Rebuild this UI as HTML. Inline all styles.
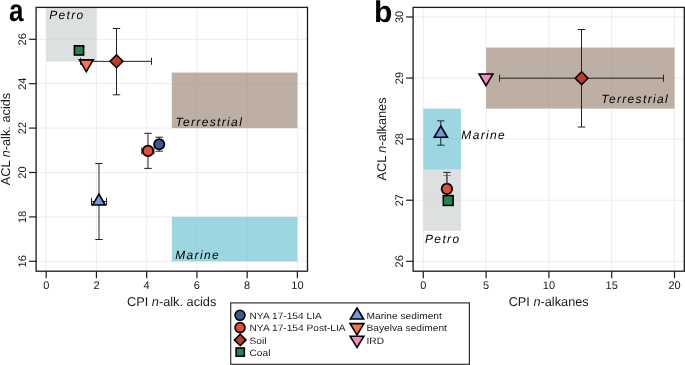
<!DOCTYPE html>
<html><head><meta charset="utf-8"><style>
html,body{margin:0;padding:0;background:#fff;width:685px;height:365px;overflow:hidden}
svg{display:block;font-family:"Liberation Sans", sans-serif;will-change:transform;text-rendering:geometricPrecision}
</style></head><body>
<svg width="685" height="365" viewBox="0 0 685 365">
<line x1="46.20" y1="7.40" x2="46.20" y2="271.20" stroke="#ededed" stroke-width="1"/>
<line x1="96.44" y1="7.40" x2="96.44" y2="271.20" stroke="#ededed" stroke-width="1"/>
<line x1="146.68" y1="7.40" x2="146.68" y2="271.20" stroke="#ededed" stroke-width="1"/>
<line x1="196.92" y1="7.40" x2="196.92" y2="271.20" stroke="#ededed" stroke-width="1"/>
<line x1="247.16" y1="7.40" x2="247.16" y2="271.20" stroke="#ededed" stroke-width="1"/>
<line x1="297.40" y1="7.40" x2="297.40" y2="271.20" stroke="#ededed" stroke-width="1"/>
<line x1="36.10" y1="261.30" x2="307.50" y2="261.30" stroke="#ededed" stroke-width="1"/>
<line x1="36.10" y1="216.90" x2="307.50" y2="216.90" stroke="#ededed" stroke-width="1"/>
<line x1="36.10" y1="172.50" x2="307.50" y2="172.50" stroke="#ededed" stroke-width="1"/>
<line x1="36.10" y1="128.10" x2="307.50" y2="128.10" stroke="#ededed" stroke-width="1"/>
<line x1="36.10" y1="83.70" x2="307.50" y2="83.70" stroke="#ededed" stroke-width="1"/>
<line x1="36.10" y1="39.30" x2="307.50" y2="39.30" stroke="#ededed" stroke-width="1"/>
<rect x="46.20" y="7.40" width="50.24" height="54.10" fill="#ced3d4" fill-opacity="0.7"/>
<rect x="171.80" y="72.60" width="125.60" height="55.50" fill="#a18d7d" fill-opacity="0.7"/>
<rect x="171.80" y="216.90" width="125.60" height="44.40" fill="#70c4d4" fill-opacity="0.7"/>
<text x="49.20" y="19.00" font-size="12" text-anchor="start"  style="font-style:italic;letter-spacing:1.35px">Petro</text>
<text x="175.40" y="125.90" font-size="12" text-anchor="start"  style="font-style:italic;letter-spacing:1.35px">Terrestrial</text>
<text x="175.20" y="258.80" font-size="12" text-anchor="start"  style="font-style:italic;letter-spacing:1.35px">Marine</text>
<line x1="116.50" y1="28.50" x2="116.50" y2="94.80" stroke="#222" stroke-width="1.0"/>
<line x1="112.80" y1="28.50" x2="120.20" y2="28.50" stroke="#222" stroke-width="1.0"/>
<line x1="112.80" y1="94.80" x2="120.20" y2="94.80" stroke="#222" stroke-width="1.0"/>
<line x1="80.50" y1="61.35" x2="151.50" y2="61.35" stroke="#222" stroke-width="1.0"/>
<line x1="80.50" y1="57.85" x2="80.50" y2="64.85" stroke="#222" stroke-width="1.0"/>
<line x1="151.50" y1="57.85" x2="151.50" y2="64.85" stroke="#222" stroke-width="1.0"/>
<line x1="99.00" y1="163.50" x2="99.00" y2="239.50" stroke="#222" stroke-width="1.0"/>
<line x1="95.30" y1="163.50" x2="102.70" y2="163.50" stroke="#222" stroke-width="1.0"/>
<line x1="95.30" y1="239.50" x2="102.70" y2="239.50" stroke="#222" stroke-width="1.0"/>
<line x1="91.50" y1="201.50" x2="106.50" y2="201.50" stroke="#222" stroke-width="1.0"/>
<line x1="91.50" y1="197.80" x2="91.50" y2="205.20" stroke="#222" stroke-width="1.0"/>
<line x1="106.50" y1="197.80" x2="106.50" y2="205.20" stroke="#222" stroke-width="1.0"/>
<line x1="148.00" y1="133.30" x2="148.00" y2="168.40" stroke="#222" stroke-width="1.0"/>
<line x1="144.30" y1="133.30" x2="151.70" y2="133.30" stroke="#222" stroke-width="1.0"/>
<line x1="144.30" y1="168.40" x2="151.70" y2="168.40" stroke="#222" stroke-width="1.0"/>
<line x1="141.80" y1="150.90" x2="154.00" y2="150.90" stroke="#222" stroke-width="1.0"/>
<line x1="141.80" y1="147.40" x2="141.80" y2="154.40" stroke="#222" stroke-width="1.0"/>
<line x1="154.00" y1="147.40" x2="154.00" y2="154.40" stroke="#222" stroke-width="1.0"/>
<line x1="159.20" y1="137.20" x2="159.20" y2="151.20" stroke="#222" stroke-width="1.0"/>
<line x1="155.50" y1="137.20" x2="162.90" y2="137.20" stroke="#222" stroke-width="1.0"/>
<line x1="155.50" y1="151.20" x2="162.90" y2="151.20" stroke="#222" stroke-width="1.0"/>
<circle cx="159.20" cy="144.20" r="5.1" fill="#3d5a8e" stroke="#000" stroke-width="1.8"/>
<circle cx="148.00" cy="150.90" r="5.25" fill="#e34c35" stroke="#000" stroke-width="1.8"/>
<path d="M98.90 194.00L105.20 205.00L92.60 205.00Z" fill="#6d99df" stroke="#000" stroke-width="1.6" stroke-linejoin="miter"/>
<rect x="74.40" y="45.80" width="9.20" height="9.20" fill="#238452" stroke="#000" stroke-width="1.6"/>
<path d="M79.40 59.90L93.20 59.90L86.30 71.60Z" fill="#f8744a" stroke="#000" stroke-width="1.6" stroke-linejoin="miter"/>
<path d="M116.50 54.90L122.90 61.30L116.50 67.70L110.10 61.30Z" fill="#be3c28" stroke="#000" stroke-width="1.6" stroke-linejoin="miter"/>
<rect x="36.10" y="7.40" width="271.40" height="263.80" fill="none" stroke="#1a1a1a" stroke-width="1.3"/>
<line x1="46.20" y1="271.20" x2="46.20" y2="278.20" stroke="#1a1a1a" stroke-width="1.2"/>
<text x="46.20" y="289.00" font-size="11" text-anchor="middle" fill="#1a1a1a" style="">0</text>
<line x1="96.44" y1="271.20" x2="96.44" y2="278.20" stroke="#1a1a1a" stroke-width="1.2"/>
<text x="96.44" y="289.00" font-size="11" text-anchor="middle" fill="#1a1a1a" style="">2</text>
<line x1="146.68" y1="271.20" x2="146.68" y2="278.20" stroke="#1a1a1a" stroke-width="1.2"/>
<text x="146.68" y="289.00" font-size="11" text-anchor="middle" fill="#1a1a1a" style="">4</text>
<line x1="196.92" y1="271.20" x2="196.92" y2="278.20" stroke="#1a1a1a" stroke-width="1.2"/>
<text x="196.92" y="289.00" font-size="11" text-anchor="middle" fill="#1a1a1a" style="">6</text>
<line x1="247.16" y1="271.20" x2="247.16" y2="278.20" stroke="#1a1a1a" stroke-width="1.2"/>
<text x="247.16" y="289.00" font-size="11" text-anchor="middle" fill="#1a1a1a" style="">8</text>
<line x1="297.40" y1="271.20" x2="297.40" y2="278.20" stroke="#1a1a1a" stroke-width="1.2"/>
<text x="297.40" y="289.00" font-size="11" text-anchor="middle" fill="#1a1a1a" style="">10</text>
<line x1="29.10" y1="261.30" x2="36.10" y2="261.30" stroke="#1a1a1a" stroke-width="1.2"/>
<text x="0" y="0" font-size="11" text-anchor="middle" fill="#1a1a1a" transform="translate(26.1 261.30) rotate(-90)">16</text>
<line x1="29.10" y1="216.90" x2="36.10" y2="216.90" stroke="#1a1a1a" stroke-width="1.2"/>
<text x="0" y="0" font-size="11" text-anchor="middle" fill="#1a1a1a" transform="translate(26.1 216.90) rotate(-90)">18</text>
<line x1="29.10" y1="172.50" x2="36.10" y2="172.50" stroke="#1a1a1a" stroke-width="1.2"/>
<text x="0" y="0" font-size="11" text-anchor="middle" fill="#1a1a1a" transform="translate(26.1 172.50) rotate(-90)">20</text>
<line x1="29.10" y1="128.10" x2="36.10" y2="128.10" stroke="#1a1a1a" stroke-width="1.2"/>
<text x="0" y="0" font-size="11" text-anchor="middle" fill="#1a1a1a" transform="translate(26.1 128.10) rotate(-90)">22</text>
<line x1="29.10" y1="83.70" x2="36.10" y2="83.70" stroke="#1a1a1a" stroke-width="1.2"/>
<text x="0" y="0" font-size="11" text-anchor="middle" fill="#1a1a1a" transform="translate(26.1 83.70) rotate(-90)">24</text>
<line x1="29.10" y1="39.30" x2="36.10" y2="39.30" stroke="#1a1a1a" stroke-width="1.2"/>
<text x="0" y="0" font-size="11" text-anchor="middle" fill="#1a1a1a" transform="translate(26.1 39.30) rotate(-90)">26</text>
<text x="171.70" y="305.60" font-size="12.75" text-anchor="middle" fill="#1a1a1a" style="">CPI <tspan font-style="italic">n</tspan>-alk. acids</text>
<text x="0" y="0" font-size="12.75" text-anchor="middle" fill="#1a1a1a" transform="translate(9.6 139.0) rotate(-90)">ACL <tspan font-style="italic">n</tspan>-alk. acids</text>
<text x="0" y="0" font-size="31" font-weight="bold" fill="#000" transform="translate(9.0 21.3) scale(0.84 1.0)">a</text>
<line x1="423.30" y1="7.40" x2="423.30" y2="271.20" stroke="#ededed" stroke-width="1"/>
<line x1="486.10" y1="7.40" x2="486.10" y2="271.20" stroke="#ededed" stroke-width="1"/>
<line x1="548.90" y1="7.40" x2="548.90" y2="271.20" stroke="#ededed" stroke-width="1"/>
<line x1="611.70" y1="7.40" x2="611.70" y2="271.20" stroke="#ededed" stroke-width="1"/>
<line x1="674.50" y1="7.40" x2="674.50" y2="271.20" stroke="#ededed" stroke-width="1"/>
<line x1="413.10" y1="261.30" x2="684.30" y2="261.30" stroke="#ededed" stroke-width="1"/>
<line x1="413.10" y1="200.22" x2="684.30" y2="200.22" stroke="#ededed" stroke-width="1"/>
<line x1="413.10" y1="139.14" x2="684.30" y2="139.14" stroke="#ededed" stroke-width="1"/>
<line x1="413.10" y1="78.06" x2="684.30" y2="78.06" stroke="#ededed" stroke-width="1"/>
<line x1="413.10" y1="16.98" x2="684.30" y2="16.98" stroke="#ededed" stroke-width="1"/>
<rect x="486.10" y="47.52" width="188.40" height="61.08" fill="#a18d7d" fill-opacity="0.7"/>
<rect x="423.30" y="108.60" width="37.68" height="61.08" fill="#70c4d4" fill-opacity="0.7"/>
<rect x="423.30" y="169.68" width="37.68" height="61.08" fill="#ced3d4" fill-opacity="0.7"/>
<text x="601.30" y="102.60" font-size="12" text-anchor="start"  style="font-style:italic;letter-spacing:1.35px">Terrestrial</text>
<text x="461.30" y="139.00" font-size="12" text-anchor="start"  style="font-style:italic;letter-spacing:1.35px">Marine</text>
<text x="425.00" y="243.00" font-size="12" text-anchor="start"  style="font-style:italic;letter-spacing:1.35px">Petro</text>
<line x1="581.50" y1="29.50" x2="581.50" y2="127.00" stroke="#222" stroke-width="1.0"/>
<line x1="577.80" y1="29.50" x2="585.20" y2="29.50" stroke="#222" stroke-width="1.0"/>
<line x1="577.80" y1="127.00" x2="585.20" y2="127.00" stroke="#222" stroke-width="1.0"/>
<line x1="499.60" y1="78.20" x2="663.50" y2="78.20" stroke="#222" stroke-width="1.0"/>
<line x1="499.60" y1="74.70" x2="499.60" y2="81.70" stroke="#222" stroke-width="1.0"/>
<line x1="663.50" y1="74.70" x2="663.50" y2="81.70" stroke="#222" stroke-width="1.0"/>
<line x1="440.80" y1="120.90" x2="440.80" y2="145.20" stroke="#222" stroke-width="1.0"/>
<line x1="437.10" y1="120.90" x2="444.50" y2="120.90" stroke="#222" stroke-width="1.0"/>
<line x1="437.10" y1="145.20" x2="444.50" y2="145.20" stroke="#222" stroke-width="1.0"/>
<line x1="447.00" y1="175.50" x2="447.00" y2="200.00" stroke="#888" stroke-width="1.0"/>
<line x1="443.30" y1="175.50" x2="450.70" y2="175.50" stroke="#888" stroke-width="1.0"/>
<line x1="443.30" y1="200.00" x2="450.70" y2="200.00" stroke="#888" stroke-width="1.0"/>
<line x1="446.90" y1="172.40" x2="446.90" y2="200.00" stroke="#222" stroke-width="1.0"/>
<line x1="443.20" y1="172.40" x2="450.60" y2="172.40" stroke="#222" stroke-width="1.0"/>
<line x1="443.20" y1="200.00" x2="450.60" y2="200.00" stroke="#222" stroke-width="1.0"/>
<circle cx="446.90" cy="188.90" r="5.25" fill="#e34c35" stroke="#000" stroke-width="1.8"/>
<rect x="443.30" y="195.60" width="9.80" height="9.80" fill="#238452" stroke="#000" stroke-width="1.6"/>
<path d="M440.80 126.00L447.40 137.30L434.20 137.30Z" fill="#6d99df" stroke="#000" stroke-width="1.6" stroke-linejoin="miter"/>
<path d="M479.10 74.00L492.90 74.00L486.00 85.70Z" fill="#f989c5" stroke="#000" stroke-width="1.6" stroke-linejoin="miter"/>
<path d="M581.60 71.80L588.00 78.20L581.60 84.60L575.20 78.20Z" fill="#be3c28" stroke="#000" stroke-width="1.6" stroke-linejoin="miter"/>
<rect x="413.10" y="7.40" width="271.20" height="263.80" fill="none" stroke="#1a1a1a" stroke-width="1.3"/>
<line x1="423.30" y1="271.20" x2="423.30" y2="278.20" stroke="#1a1a1a" stroke-width="1.2"/>
<text x="423.30" y="289.00" font-size="11" text-anchor="middle" fill="#1a1a1a" style="">0</text>
<line x1="486.10" y1="271.20" x2="486.10" y2="278.20" stroke="#1a1a1a" stroke-width="1.2"/>
<text x="486.10" y="289.00" font-size="11" text-anchor="middle" fill="#1a1a1a" style="">5</text>
<line x1="548.90" y1="271.20" x2="548.90" y2="278.20" stroke="#1a1a1a" stroke-width="1.2"/>
<text x="548.90" y="289.00" font-size="11" text-anchor="middle" fill="#1a1a1a" style="">10</text>
<line x1="611.70" y1="271.20" x2="611.70" y2="278.20" stroke="#1a1a1a" stroke-width="1.2"/>
<text x="611.70" y="289.00" font-size="11" text-anchor="middle" fill="#1a1a1a" style="">15</text>
<line x1="674.50" y1="271.20" x2="674.50" y2="278.20" stroke="#1a1a1a" stroke-width="1.2"/>
<text x="674.50" y="289.00" font-size="11" text-anchor="middle" fill="#1a1a1a" style="">20</text>
<line x1="406.10" y1="261.30" x2="413.10" y2="261.30" stroke="#1a1a1a" stroke-width="1.2"/>
<text x="0" y="0" font-size="11" text-anchor="middle" fill="#1a1a1a" transform="translate(403.0 261.30) rotate(-90)">26</text>
<line x1="406.10" y1="200.22" x2="413.10" y2="200.22" stroke="#1a1a1a" stroke-width="1.2"/>
<text x="0" y="0" font-size="11" text-anchor="middle" fill="#1a1a1a" transform="translate(403.0 200.22) rotate(-90)">27</text>
<line x1="406.10" y1="139.14" x2="413.10" y2="139.14" stroke="#1a1a1a" stroke-width="1.2"/>
<text x="0" y="0" font-size="11" text-anchor="middle" fill="#1a1a1a" transform="translate(403.0 139.14) rotate(-90)">28</text>
<line x1="406.10" y1="78.06" x2="413.10" y2="78.06" stroke="#1a1a1a" stroke-width="1.2"/>
<text x="0" y="0" font-size="11" text-anchor="middle" fill="#1a1a1a" transform="translate(403.0 78.06) rotate(-90)">29</text>
<line x1="406.10" y1="16.98" x2="413.10" y2="16.98" stroke="#1a1a1a" stroke-width="1.2"/>
<text x="0" y="0" font-size="11" text-anchor="middle" fill="#1a1a1a" transform="translate(403.0 16.98) rotate(-90)">30</text>
<text x="548.70" y="305.50" font-size="12.75" text-anchor="middle" fill="#1a1a1a" style="">CPI <tspan font-style="italic">n</tspan>-alkanes</text>
<text x="0" y="0" font-size="12.75" text-anchor="middle" fill="#1a1a1a" transform="translate(386.4 139.0) rotate(-90)">ACL <tspan font-style="italic">n</tspan>-alkanes</text>
<text x="374" y="22" font-size="30" font-weight="bold" fill="#000">b</text>
<rect x="230.7" y="302.9" width="238.7" height="61.4" fill="#fff" stroke="#333" stroke-width="1.2"/>
<circle cx="240.00" cy="315.30" r="5.0" fill="#3d5a8e" stroke="#000" stroke-width="1.6"/>
<circle cx="240.00" cy="327.60" r="5.0" fill="#e34c35" stroke="#000" stroke-width="1.6"/>
<path d="M240.20 334.10L246.00 339.90L240.20 345.70L234.40 339.90Z" fill="#be3c28" stroke="#000" stroke-width="1.6" stroke-linejoin="miter"/>
<rect x="236.10" y="348.00" width="8.20" height="8.20" fill="#238452" stroke="#000" stroke-width="1.6"/>
<path d="M357.00 308.00L363.60 319.00L350.40 319.00Z" fill="#6d99df" stroke="#000" stroke-width="1.6" stroke-linejoin="miter"/>
<path d="M350.10 323.60L363.90 323.60L357.00 335.00Z" fill="#f8744a" stroke="#000" stroke-width="1.6" stroke-linejoin="miter"/>
<path d="M350.10 336.20L363.90 336.20L357.00 347.40Z" fill="#f989c5" stroke="#000" stroke-width="1.6" stroke-linejoin="miter"/>
<text x="0" y="0" font-size="9.27" fill="#1a1a1a" transform="translate(249.5 318.90) scale(1.1 1)">NYA 17-154 LIA</text>
<text x="0" y="0" font-size="9.27" fill="#1a1a1a" transform="translate(249.5 331.20) scale(1.1 1)">NYA 17-154 Post-LIA</text>
<text x="0" y="0" font-size="9.27" fill="#1a1a1a" transform="translate(249.5 343.50) scale(1.1 1)">Soil</text>
<text x="0" y="0" font-size="9.27" fill="#1a1a1a" transform="translate(249.5 355.70) scale(1.1 1)">Coal</text>
<text x="0" y="0" font-size="9.27" fill="#1a1a1a" transform="translate(366.5 318.90) scale(1.1 1)">Marine sediment</text>
<text x="0" y="0" font-size="9.27" fill="#1a1a1a" transform="translate(366.5 331.20) scale(1.1 1)">Bayelva sediment</text>
<text x="0" y="0" font-size="9.27" fill="#1a1a1a" transform="translate(366.5 343.50) scale(1.1 1)">IRD</text>
</svg>
</body></html>
